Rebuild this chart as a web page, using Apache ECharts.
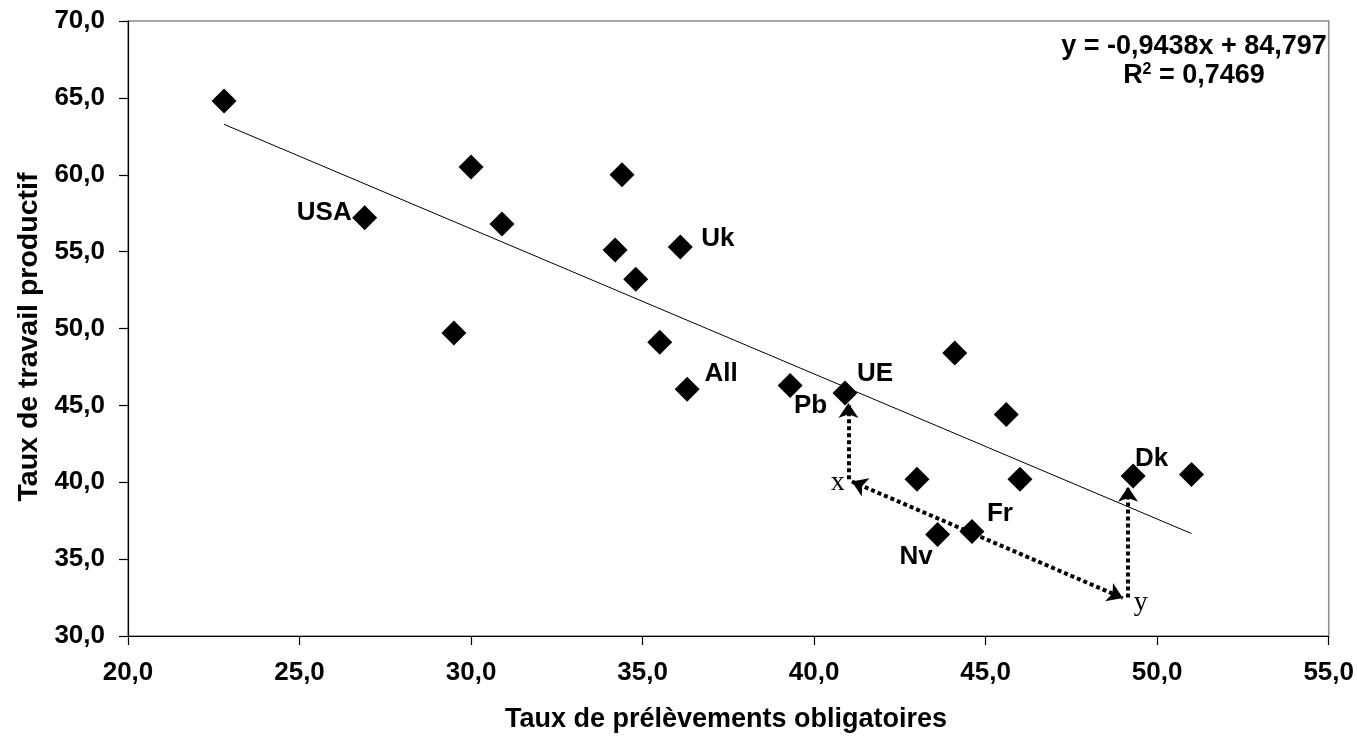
<!DOCTYPE html>
<html>
<head>
<meta charset="utf-8">
<script src="https://cdn.jsdelivr.net/npm/echarts@6/dist/echarts.min.js"></script>
<style>
html,body{margin:0;padding:0;background:#fff;}
#c{width:1357px;height:737px;}
</style>
</head>
<body>
<div id="c"></div>
<script>
// ---- data ----
var countryX = [22.8, 26.9, 30.0, 30.9, 29.5, 34.4, 34.2, 36.1, 34.8, 35.5, 36.3, 39.3, 40.9, 44.1, 45.6, 43.0, 46.0, 49.3, 51.0, 43.6, 44.6];
var countryY = [64.8, 57.2, 60.5, 56.8, 49.7, 60.0, 55.1, 55.3, 53.2, 49.1, 46.05, 46.3, 45.8, 48.4, 44.4, 40.2, 40.2, 40.4, 40.5, 36.6, 36.8];
var countryName = ['', 'USA', '', '', '', '', '', 'Uk', '', '', 'All', 'Pb', 'UE', '', '', '', '', 'Dk', '', 'Nv', 'Fr'];
var slope = -0.9438, intercept = 84.797;
var trendRangeX = [22.8, 51.0];
var equationLines = ['y = -0,9438x + 84,797', 'R', '2', ' = 0,7469'];
var xTicks = [20, 25, 30, 35, 40, 45, 50, 55];
var yTicks = [30, 35, 40, 45, 50, 55, 60, 65, 70];
var xTitle = 'Taux de prélèvements obligatoires';
var yTitle = 'Taux de travail productif';
// arrows (data coordinates)
var arrowOneHead = [[[41.0, 40.2], [41.0, 45.15]], [[49.15, 32.5], [49.15, 39.7]]];
var arrowTwoHeads = [[[41.1, 40.05], [49.0, 32.47]]];
var arrowLetters = [[40.69, 40.0, 'x'], [49.52, 32.2, 'y']];

// ---- styling (positions of labels relative to marks) ----
var labelOffset = {
  'USA': [-40.5, -5], 'Uk': [37.5, -8], 'All': [34, -15], 'Pb': [20.5, 20],
  'UE': [30, -19], 'Dk': [18.5, -17.7], 'Fr': [28, -18], 'Nv': [-21.5, 22]
};
var FONT = '"Liberation Sans", Arial, sans-serif';

function fmt(v) { return v.toFixed(1).replace('.', ','); }

var scatterData = countryX.map(function (x, i) {
  var item = { value: [x, countryY[i]] };
  var n = countryName[i];
  if (n) {
    item.label = { show: true, formatter: n, position: 'inside', offset: labelOffset[n],
      align: 'center', verticalAlign: 'middle', color: '#000', opacity: 1,
      fontSize: 26, fontWeight: 'bold', fontFamily: FONT };
  }
  return item;
});

var trendData = trendRangeX.map(function (x) { return [x, slope * x + intercept]; });

var chart = echarts.init(document.getElementById('c'), null, { renderer: 'canvas' });
chart.setOption({
  animation: false,
  backgroundColor: '#fff',
  grid: { left: 128, top: 21, width: 1201, height: 615, show: true, borderColor: '#8a8a8a', borderWidth: 1.5, backgroundColor: 'transparent' },
  xAxis: {
    type: 'value', min: xTicks[0], max: xTicks[xTicks.length - 1], interval: xTicks[1] - xTicks[0],
    splitLine: { show: false },
    axisLine: { show: true, onZero: false, lineStyle: { color: '#000', width: 1.2 } },
    axisTick: { show: true, inside: false, length: 9, lineStyle: { color: '#000', width: 1.2 } },
    axisLabel: { formatter: fmt, color: '#000', fontSize: 26, fontWeight: 'bold', fontFamily: FONT, margin: 24 }
  },
  yAxis: {
    type: 'value', min: yTicks[0], max: yTicks[yTicks.length - 1], interval: yTicks[1] - yTicks[0],
    splitLine: { show: false },
    axisLine: { show: true, onZero: false, lineStyle: { color: '#000', width: 1.2 } },
    axisTick: { show: true, inside: false, length: 9, lineStyle: { color: '#000', width: 1.2 } },
    axisLabel: { formatter: fmt, color: '#000', fontSize: 26, fontWeight: 'bold', fontFamily: FONT, margin: 23 }
  },
  series: [
    {
      type: 'line', data: trendData, showSymbol: false, symbol: 'none',
      lineStyle: { color: '#000', width: 1 }, z: 2, silent: true
    },
    {
      type: 'lines', coordinateSystem: 'cartesian2d', z: 3,
      symbol: ['none', 'arrow'], symbolSize: 15,
      lineStyle: { color: '#000', width: 4, type: [4, 3], opacity: 1 },
      data: arrowOneHead.map(function (c) { return { coords: c }; })
    },
    {
      type: 'lines', coordinateSystem: 'cartesian2d', z: 3,
      symbol: ['arrow', 'arrow'], symbolSize: 15,
      lineStyle: { color: '#000', width: 4, type: [4, 3], opacity: 1 },
      data: arrowTwoHeads.map(function (c) { return { coords: c }; })
    },
    {
      type: 'scatter', symbol: 'circle', symbolSize: 2, z: 4,
      itemStyle: { color: 'rgba(0,0,0,0)', opacity: 1 },
      data: arrowLetters.map(function (a) {
        return { value: [a[0], a[1]], label: { show: true, formatter: a[2], position: 'inside',
          align: 'center', verticalAlign: 'middle', color: '#000', opacity: 1, fontSize: 28,
          fontFamily: '"Liberation Serif", "Times New Roman", serif', fontWeight: 'normal' } };
      })
    },
    {
      type: 'scatter', symbol: 'diamond', symbolSize: 25, z: 5,
      itemStyle: { color: '#000', opacity: 1 },
      label: { color: '#000', fontSize: 26, fontWeight: 'bold', fontFamily: FONT },
      data: scatterData
    }
  ],
  graphic: [
    { type: 'text', x: 1194, y: 47, z: 10,
      style: { text: equationLines[0], align: 'center', verticalAlign: 'middle',
        fill: '#000', font: 'bold 27px ' + FONT } },
    { type: 'text', x: 1194, y: 76, z: 10,
      style: { text: '{b|' + equationLines[1] + '}{s|' + equationLines[2] + '}{b|' + equationLines[3] + '}',
        align: 'center', verticalAlign: 'middle',
        rich: {
          b: { fontSize: 27, fontWeight: 'bold', fontFamily: FONT, fill: '#000', color: '#000' },
          s: { fontSize: 16, fontWeight: 'bold', fontFamily: FONT, fill: '#000', color: '#000', verticalAlign: 'top', padding: [0, 0, 12, 0] }
        } } },
    { type: 'text', x: 726, y: 720, z: 10,
      style: { text: xTitle, align: 'center', verticalAlign: 'middle', fill: '#000', font: 'bold 27px ' + FONT } },
    { type: 'text', x: 29, y: 337, rotation: Math.PI / 2, z: 10,
      style: { text: yTitle, align: 'center', verticalAlign: 'middle', fill: '#000', font: 'bold 28.5px ' + FONT } }
  ]
});
</script>
</body>
</html>
